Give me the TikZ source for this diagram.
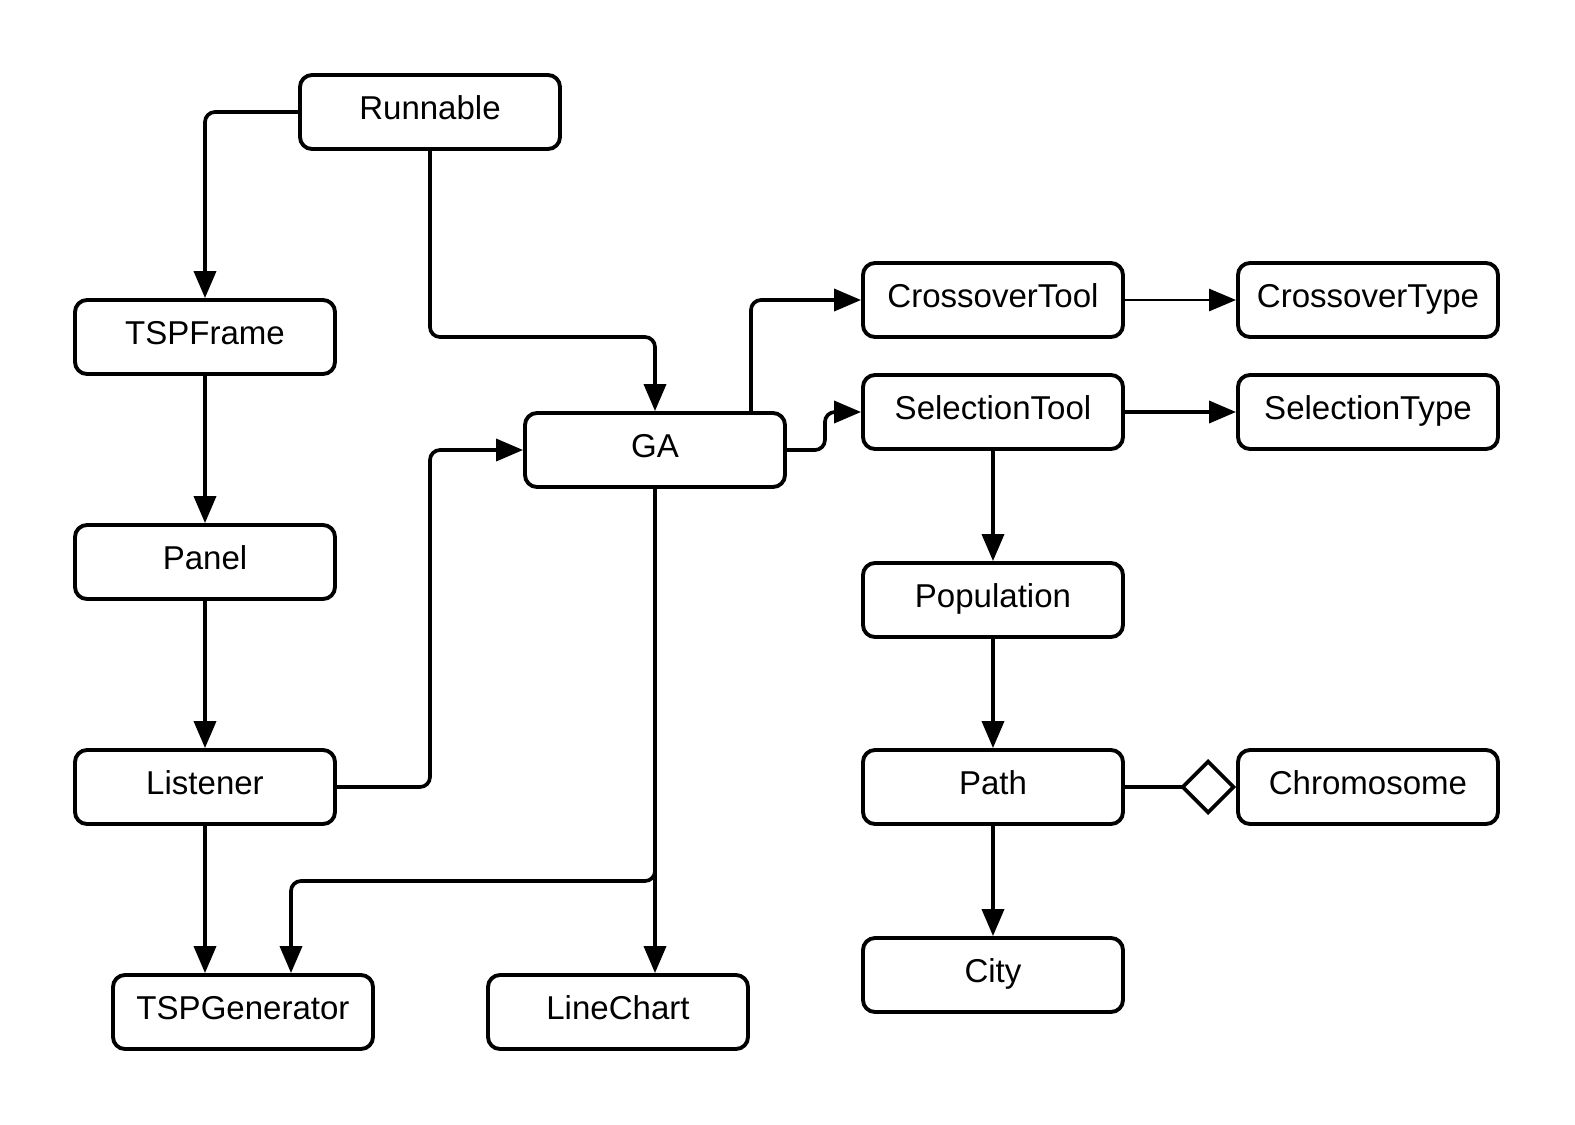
\documentclass[tikz,border=0pt]{standalone}
\usepackage{fontspec}
\setmainfont{Liberation Sans}
\usetikzlibrary{arrows.meta, positioning}

\begin{document}
\begin{tikzpicture}[>={Triangle[length=2.7mm, width=2.2mm]},
    cls/.style={draw, line width=1.1pt, rounded corners=1.2mm, fill=white,
      minimum width=2.6cm, minimum height=0.74cm, inner sep=0pt,
      text height=0.75em, text depth=0.3em,
      font=\fontsize{9.4}{11}\selectfont},
    conn/.style={->, line width=1.05pt, rounded corners=1mm},
    aggr/.style={-{Diamond[open, length=5.6mm, width=5.6mm]}, line width=1.05pt}]
  \useasboundingbox (0,0) rectangle (15.75,-11.25);
  \node[cls] (runnable) at (4.30,-1.12) {Runnable};
  \node[cls] (tspframe) at (2.05,-3.37) {TSPFrame};
  \node[cls] (panel) at (2.05,-5.62) {Panel};
  \node[cls] (listener) at (2.05,-7.87) {Listener};
  \node[cls] (tspgen) at (2.43,-10.12) {TSPGenerator};
  \node[cls] (linechart) at (6.18,-10.12) {LineChart};
  \node[cls] (ga) at (6.55,-4.50) {GA};
  \node[cls] (crosstool) at (9.93,-3.00) {CrossoverTool};
  \node[cls] (crosstype) at (13.68,-3.00) {CrossoverType};
  \node[cls] (seltool) at (9.93,-4.12) {SelectionTool};
  \node[cls] (seltype) at (13.68,-4.12) {SelectionType};
  \node[cls] (population) at (9.93,-6.00) {Population};
  \node[cls] (path) at (9.93,-7.87) {Path};
  \node[cls] (chromo) at (13.68,-7.87) {Chromosome};
  \node[cls] (city) at (9.93,-9.75) {City};
  \coordinate (gasplit) at (6.55,-8.81);
  \draw[conn] (runnable.west) -| (tspframe.north);
  \draw[conn] (runnable.south) -- (runnable.south |- tspframe) -| (ga.north);
  \draw[conn] (tspframe) -- (panel);
  \draw[conn] (panel) -- (listener);
  \draw[conn] (listener.south) -- (listener.south |- tspgen.north);
  \draw[conn] (listener.east) -- (listener.east -| runnable.south) |- (ga.west);
  \draw[conn] (ga.south) -- (ga.south |- linechart.north);
  \draw[conn] (ga.south) -- (gasplit) -| ([xshift=4.8mm]tspgen.north);
  \draw[conn] ([xshift=9.6mm]ga.north) |- (crosstool.west);
  \draw[conn] (ga.east) -- ++(0.38,0) |- (seltool.west);
  \draw[conn, line width=0.8pt] (crosstool) -- (crosstype);
  \draw[conn] (seltool) -- (seltype);
  \draw[conn] (seltool) -- (population);
  \draw[conn] (population) -- (path);
  \draw[conn] (path) -- (city);
  \draw[aggr] (path) -- (chromo);
\end{tikzpicture}
\end{document}
